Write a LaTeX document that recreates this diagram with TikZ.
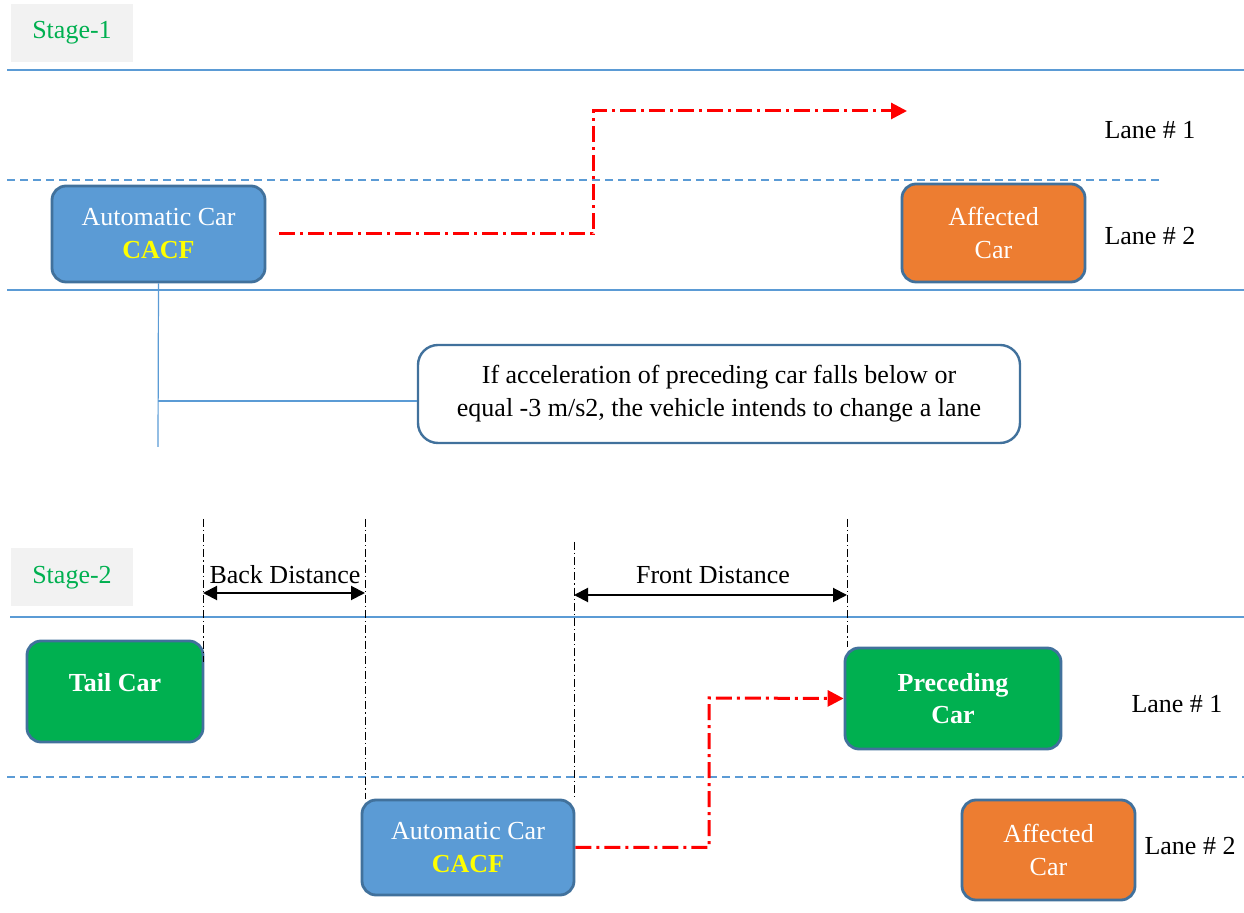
\documentclass[tikz,border=0pt]{standalone}
\usepackage{fontspec}
\setmainfont{Liberation Serif}
\usepackage{tikz}
\usetikzlibrary{arrows.meta, positioning, calc}
\definecolor{carblue}{RGB}{91,155,213}
\definecolor{carborder}{RGB}{65,113,156}
\definecolor{carorange}{RGB}{237,125,49}
\definecolor{cargreen}{RGB}{0,176,80}
\definecolor{stagegray}{RGB}{242,242,242}
\definecolor{laneblue}{RGB}{91,155,213}
\definecolor{cacfyellow}{RGB}{255,255,0}
\tikzset{
  txt/.style={font=\fontsize{13}{16.5}\selectfont},
  carbox/.style={rectangle, draw=carborder, line width=1.4pt,
    rounded corners=7pt, align=center, text=white, txt, inner sep=0pt},
  bluecar/.style={carbox, fill=carblue},
  orangecar/.style={carbox, fill=carorange},
  greencar/.style={carbox, fill=cargreen, font=\fontsize{13}{16}\selectfont\bfseries},
  notebox/.style={rectangle, draw=carborder, line width=1.2pt, fill=white,
    rounded corners=10pt, align=center, txt, inner sep=0pt,
    minimum width=301pt, minimum height=49pt},
  stagebox/.style={rectangle, fill=stagegray, text=cargreen, txt,
    minimum width=61pt, minimum height=29pt, inner sep=0pt},
  lanelbl/.style={txt, inner sep=0pt},
  laneline/.style={draw=laneblue, line width=0.6pt},
  lanedash/.style={draw=laneblue, line width=0.6pt, dash pattern=on 4pt off 2.5pt},
  movearrow/.style={draw=red, line width=1.5pt,
    dash pattern=on 8pt off 2.5pt on 1.5pt off 2.5pt,
    -{Triangle[length=8pt, width=8pt]}},
  gapline/.style={draw=black, line width=0.5pt,
    dash pattern=on 4pt off 1.5pt on 0.6pt off 1.5pt},
  dimarrow/.style={draw=black, line width=1pt,
    {Triangle[length=7pt, width=7pt]}-{Triangle[length=7pt, width=7pt]}}
}
\newcommand{\cacf}{\\{\color{cacfyellow}\bfseries CACF}}

\begin{document}
\begin{tikzpicture}[x=0.5pt, y=-0.5pt]
  \useasboundingbox (0,0) rectangle (1244,913);

  % stage 1
  \node[stagebox] (stA) at (72,33) {Stage-1};
  \draw[laneline] (7,70) -- (1244,70);
  \draw[lanedash] (7,180) -- (1160,180);
  \draw[laneline] (7,290) -- (1244,290);

  \node[bluecar, minimum width=106.5pt, minimum height=48pt] (acA) at (158.5,234) {Automatic Car\cacf};
  \node[orangecar, minimum width=91.5pt, minimum height=49pt] (afA) at (993.5,233) {Affected\\Car};
  \node[lanelbl] (laneA1) at (1150,130) {Lane \# 1};
  \node[lanelbl] (laneA2) at (1150,236) {Lane \# 2};

  \coordinate (turnA) at (593,111);
  \coordinate (goalA) at (907,111);
  \draw[movearrow, shorten <=6.5pt] (acA.east) -| (turnA) -- (goalA);

  \node[notebox] (rule) at (719,394) {If acceleration of preceding car falls below or\\equal -3 m/s2, the vehicle intends to change a lane};
  \coordinate (stemEnd) at (158,447);
  \coordinate (branch) at (158,401);
  \draw[laneline] (acA.south) -- (stemEnd);
  \draw[laneline] (branch) -- (branch -| rule.west);

  % stage 2
  \node[stagebox] (stB) at (72,577.5) {Stage-2};
  \draw[laneline] (10,617) -- (1244,617);
  \draw[lanedash] (7,777) -- (1244,777);

  \node[greencar, minimum width=88pt, minimum height=50.5pt, text depth=9pt] (tail) at (115,691.5) {Tail Car};
  \node[greencar, minimum width=108pt, minimum height=50.5pt] (prec) at (953,698.5) {Preceding\\Car};
  \node[bluecar, minimum width=106pt, minimum height=47.5pt] (acB) at (468,847.5) {Automatic Car\cacf};
  \node[orangecar, minimum width=86.5pt, minimum height=50pt] (afB) at (1048.5,850) {Affected\\Car};
  \node[lanelbl] (laneB1) at (1177,704) {Lane \# 1};
  \node[lanelbl] (laneB2) at (1190,846) {Lane \# 2};

  \coordinate (backL) at (203,519);
  \coordinate (backR) at (365,519);
  \coordinate (frontL) at (574,542);
  \coordinate (frontR) at (847,519);
  \draw[gapline] (backL) -- (backL |- 0,662);
  \draw[gapline] (backR) -- (backR |- acB.north);
  \draw[gapline] (frontL) -- (frontL |- acB.north);
  \draw[gapline] (frontR) -- (frontR |- prec.north);

  \draw[dimarrow] (backL |- 0,593) -- (backR |- 0,593);
  \draw[dimarrow] (frontL |- 0,595) -- (frontR |- 0,595);
  \node[lanelbl] (backLbl) at (285,575) {Back Distance};
  \node[lanelbl] (frontLbl) at (713,575) {Front Distance};

  \coordinate (turnB) at (709,698);
  \draw[movearrow] (acB.east) -| (turnB) -- (prec.west);
\end{tikzpicture}
\end{document}
